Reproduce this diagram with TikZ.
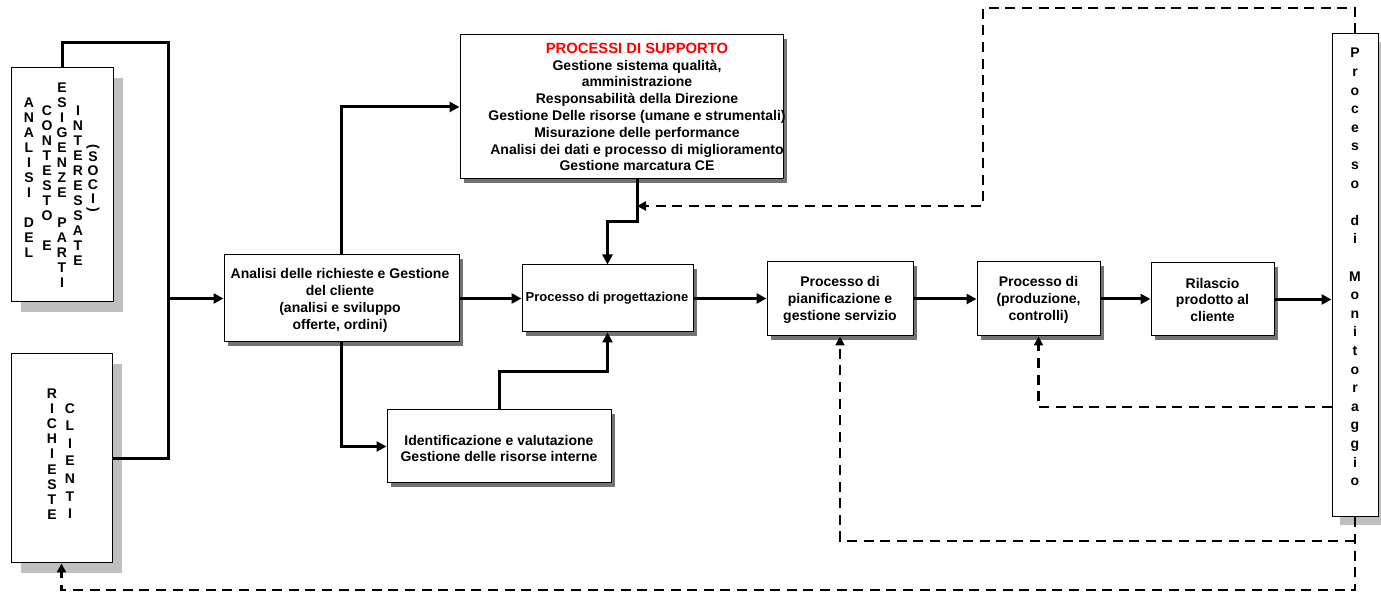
\documentclass[tikz,border=0pt]{standalone}
\usepackage{fontspec}
\setmainfont{Liberation Sans}
\usetikzlibrary{arrows.meta,shadows}
\begin{document}
\begin{tikzpicture}[x=0.5pt,y=-0.5pt,
  every node/.style={font=\fontsize{7}{8.4}\selectfont\bfseries},
  box/.style={draw, fill=white, line width=0.5pt, inner sep=0pt,
    drop shadow={shadow xshift=2pt, shadow yshift=-2pt, fill=black!55, opacity=1}},
  bigbox/.style={draw, fill=white, line width=0.5pt, inner sep=0pt,
    drop shadow={shadow xshift=5pt, shadow yshift=-5pt, fill=black!25, opacity=1}},
  monibox/.style={draw, fill=white, line width=0.5pt, inner sep=0pt,
    drop shadow={shadow xshift=4pt, shadow yshift=-4pt, fill=black!25, opacity=1}},
  txt/.style={align=center, inner sep=0pt},
  vt/.style={align=center, inner sep=0pt, font=\fontsize{7}{7.5}\selectfont\bfseries},
  conn/.style={line width=1.5pt},
  arr/.style={conn, -{Triangle[length=5pt,width=5pt]}},
  dconn/.style={line width=1.2pt, dash pattern=on 5pt off 3.3pt},
  darr/.style={dconn, -{Triangle[length=4.5pt,width=4.5pt]}},
]
\useasboundingbox (0,0) rectangle (1381,592);

% boxes
\node[bigbox, minimum width=51pt, minimum height=117pt] (anal) at (62,185) {};
\node[bigbox, minimum width=50.5pt, minimum height=104.5pt] (rich) at (61.5,458.5) {};
\node[box, minimum width=117.5pt, minimum height=43.5pt] (gest) at (341.5,298.5) {};
\node[box, minimum width=161.5pt, minimum height=72pt] (supp) at (621.5,107) {};
\node[box, minimum width=85.5pt, minimum height=33.5pt] (prog) at (607.5,298.5) {};
\node[box, minimum width=112pt, minimum height=36.5pt] (iden) at (499,446.5) {};
\node[box, minimum width=73pt, minimum height=37pt] (pian) at (840,299) {};
\node[box, minimum width=61.5pt, minimum height=37pt] (prod) at (1038.5,299) {};
\node[box, minimum width=61.5pt, minimum height=36.5pt] (rila) at (1212.5,299.5) {};
\node[monibox, minimum width=23pt, minimum height=241.5pt] (moni) at (1355,275.5) {};

% texts
\node[vt] (c1) at (29,178) {A\\N\\A\\L\\I\\S\\I\\\mbox{}\\D\\E\\L};
\node[vt] (c2) at (47,178.5) {C\\O\\N\\T\\E\\S\\T\\O\\\mbox{}\\E};
\node[vt] (c3) at (62,185.5) {E\\S\\I\\G\\E\\N\\Z\\E\\\mbox{}\\P\\A\\R\\T\\I};
\node[vt] (c4) at (78,186) {I\\N\\T\\E\\R\\E\\S\\S\\A\\T\\E};
\node[vt, font=\fontsize{7}{7}\selectfont\bfseries] (c5) at (93,178) {S\\O\\C\\I};
\node[inner sep=0pt, rotate=-90] (p1) at (93,147) {(};
\node[inner sep=0pt, rotate=-90] (p2) at (93,210) {)};

\node[vt, font=\fontsize{7}{7.6}\selectfont\bfseries] (r1) at (52,454) {R\\I\\C\\H\\I\\E\\S\\T\\E};
\node[vt, font=\fontsize{7}{8.8}\selectfont\bfseries] (r2) at (70,461) {C\\L\\I\\E\\N\\T\\I};

\node[txt] (tgest) at (340,300.5) {Analisi delle richieste e Gestione\\del cliente\\(analisi e sviluppo\\offerte, ordini)};
\node[txt] (tsupp) at (637,107) {{\fontsize{7.4}{8.4}\selectfont\color{red}PROCESSI DI SUPPORTO}\\Gestione sistema qualità,\\amministrazione\\Responsabilità della Direzione\\Gestione Delle risorse (umane e strumentali)\\Misurazione delle performance\\Analisi dei dati e processo di miglioramento\\Gestione marcatura CE};
\node[txt, font=\fontsize{6.5}{8}\selectfont\bfseries] (tprog) at (607,298) {Processo di progettazione};
\node[txt] (tiden) at (499,448.5) {Identificazione e valutazione\\Gestione delle risorse interne};
\node[txt] (tpian) at (840,300) {Processo di\\pianificazione e\\gestione servizio};
\node[txt] (tprod) at (1038.5,300) {Processo di\\(produzione,\\controlli)};
\node[txt] (trila) at (1212.5,300) {Rilascio\\prodotto al\\cliente};
\node[vt, font=\fontsize{7}{9.3}\selectfont\bfseries] (tmoni) at (1355,267) {P\\r\\o\\c\\e\\s\\s\\o\\\mbox{}\\d\\i\\\mbox{}\\M\\o\\n\\i\\t\\o\\r\\a\\g\\g\\i\\o};

% coordinates
\coordinate (t1) at (62,43);
\coordinate (j) at (168,298.5);
\coordinate (sx) at (637,222);
\coordinate (iy) at (607.5,372);
\coordinate (d1) at (983,8);
\coordinate (d2) at (983,206);
\coordinate (b1) at (61.5,590);
\coordinate (b2) at (1355,541);
\coordinate (b3) at (1038,407);

% solid connectors
\draw[conn] (anal.north) -- (t1) -| (j);
\draw[conn] (rich.east) -| (j);
\draw[arr] (j) -- (gest.west);
\draw[arr] (gest.north) |- (supp.west);
\draw[arr] (gest.south) |- (iden.west);
\draw[arr] (gest.east) -- (gest.east -| prog.west);
\draw[arr] (supp.south -| sx) -- (sx) -| (prog.north);
\draw[arr] (iden.north) |- (iy) -- (prog.south);
\draw[arr] (prog.east) -- (prog.east -| pian.west);
\draw[arr] (pian.east) -- (pian.east -| prod.west);
\draw[arr] (prod.east) -- (prod.east -| rila.west);
\draw[arr] (rila.east) -- (rila.east -| moni.west);

% dashed connectors
\draw[darr] (moni.north) |- (d1) -- (d2) -- (d2 -| sx);
\draw[darr] (moni.south) |- (b1) -- (rich.south);
\draw[darr] (b2) -| (pian.south);
\draw[darr] (moni.west |- b3) -| (prod.south);
\end{tikzpicture}
\end{document}
